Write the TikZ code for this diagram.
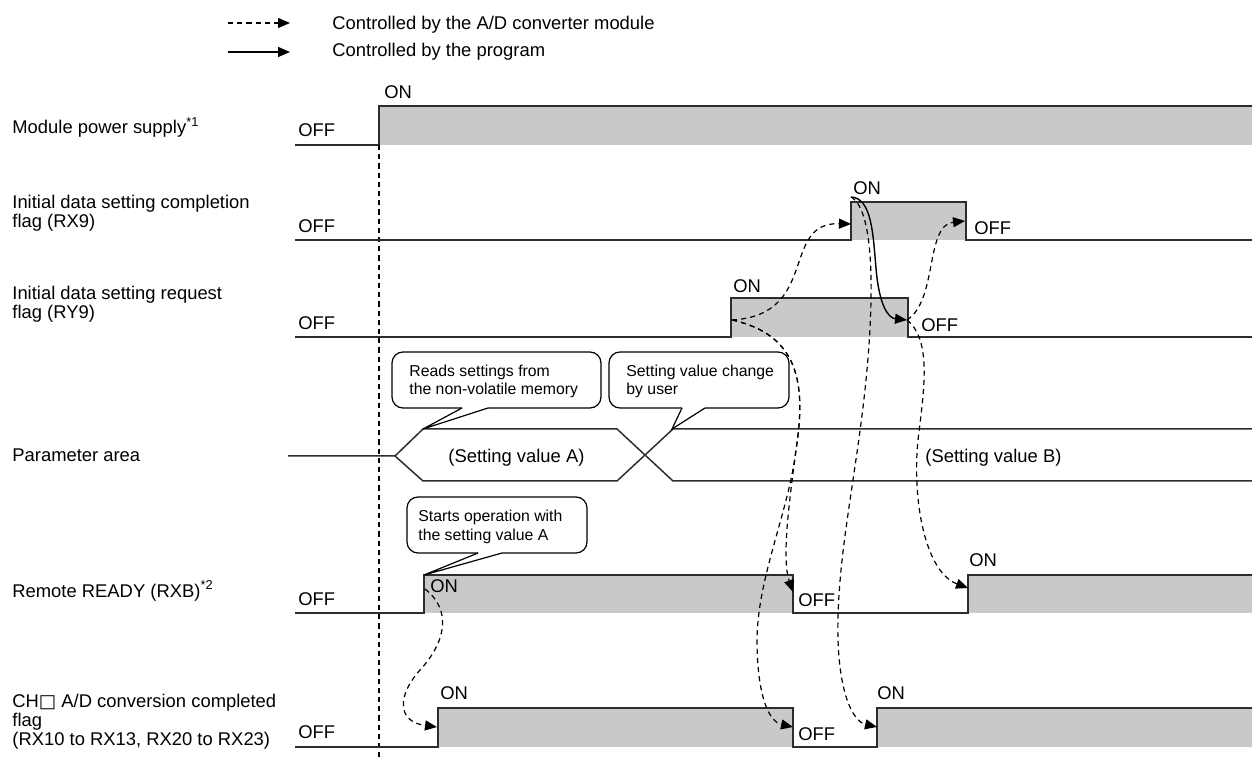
\documentclass[tikz,border=0pt]{standalone}
\usepackage{fontspec}
\setmainfont{Liberation Sans}
\newfontfamily\symfont{DejaVu Sans}
\usetikzlibrary{arrows.meta}

\definecolor{sigfill}{RGB}{200,201,203}
\definecolor{sigline}{RGB}{45,45,45}

\begin{document}
\begin{tikzpicture}[
  x=0.5pt, y=-0.5pt,
  font=\fontsize{9.2}{10}\selectfont,
  sig/.style={draw=sigline, line width=0.75pt},
  high/.style={fill=sigfill},
  lbl/.style={anchor=base west, inner sep=0pt},
  note/.style={anchor=base west, inner sep=0pt,
    font=\fontsize{7.9}{9.5}\selectfont},
  callout/.style={draw=black, line width=0.6pt},
  bymodule/.style={draw=black, line width=0.6pt,
    dash pattern=on 2.6pt off 2pt,
    -{Triangle[length=6pt,width=5pt]}},
  byprog/.style={draw=black, line width=0.7pt,
    -{Triangle[length=6pt,width=5pt]}}
]
  \useasboundingbox (0,0) rectangle (1252,758);

  % Legend
  \coordinate (lgA) at (228,23);
  \coordinate (lgB) at (290,23);
  \coordinate (lgC) at (228,52);
  \coordinate (lgD) at (290,52);
  \draw[bymodule] (lgA) -- (lgB);
  \draw[byprog] (lgC) -- (lgD);
  \node[lbl] (lgmod) at (332,30) {Controlled by the A/D converter module};
  \node[lbl] (lgprog) at (332,57) {Controlled by the program};

  % Signal names
  \node[lbl] (nmpow)  at (12,134) {Module power supply\textsuperscript{*1}};
  \node[lbl] (nmrx9a) at (12,209) {Initial data setting completion};
  \node[lbl] (nmrx9b) at (12,228) {flag (RX9)};
  \node[lbl] (nmry9a) at (12,300) {Initial data setting request};
  \node[lbl] (nmry9b) at (12,319) {flag (RY9)};
  \node[lbl] (nmpar)  at (12,462) {Parameter area};
  \node[lbl] (nmrr)   at (12,597) {Remote READY (RXB)\textsuperscript{*2}};
  \node[lbl] (nmcha)  at (12,707) {CH{\symfont □} A/D conversion completed};
  \node[lbl] (nmchb)  at (12,726) {flag};
  \node[lbl] (nmchc)  at (12,745) {(RX10 to RX13, RX20 to RX23)};

  % Module power supply
  \fill[high] (379,106) rectangle (1252,145);
  \draw[sig] (295,145) -- (379,145) -- (379,106) -- (1252,106);
  \node[lbl] (powoff) at (298,137) {OFF};
  \node[lbl] (powon)  at (384,99) {ON};
  \draw[black, line width=0.6pt, dash pattern=on 2.6pt off 2pt]
    (379,145) -- (379,758);

  % RX9
  \fill[high] (851,202) rectangle (966,240);
  \draw[sig] (295,240) -- (851,240) -- (851,202) -- (966,202)
    -- (966,240) -- (1252,240);
  \node[lbl] (rx9off1) at (298,233) {OFF};
  \node[lbl] (rx9on)   at (853,195) {ON};
  \node[lbl] (rx9off2) at (974,235) {OFF};

  % RY9
  \fill[high] (731,298) rectangle (908,337);
  \draw[sig] (295,337) -- (731,337) -- (731,298) -- (908,298)
    -- (908,337) -- (1252,337);
  \node[lbl] (ry9off1) at (298,330) {OFF};
  \node[lbl] (ry9on)   at (733,293) {ON};
  \node[lbl] (ry9off2) at (921,332) {OFF};

  % Parameter area
  \draw[sig] (288,456) -- (395,456) -- (423,429) -- (617,429)
    -- (673,481) -- (1252,481);
  \draw[sig] (395,456) -- (423,481) -- (617,481) -- (673,429)
    -- (1252,429);
  \node[lbl] (parA) at (448,463) {(Setting value A)};
  \node[lbl] (parB) at (925,463) {(Setting value B)};

  % Remote READY
  \fill[high] (424,575) rectangle (793,613);
  \fill[high] (968,575) rectangle (1252,613);
  \draw[sig] (295,613) -- (424,613) -- (424,575) -- (793,575)
    -- (793,613) -- (968,613) -- (968,575) -- (1252,575);
  \node[lbl] (rroff1) at (298,605) {OFF};
  \node[lbl] (rron1)  at (430,592) {ON};
  \node[lbl] (rroff2) at (798,606) {OFF};
  \node[lbl] (rron2)  at (969,567) {ON};

  % CH A/D conversion completed
  \fill[high] (438,708) rectangle (793,747);
  \fill[high] (877,708) rectangle (1252,747);
  \draw[sig] (295,747) -- (438,747) -- (438,708) -- (793,708)
    -- (793,747) -- (877,747) -- (877,708) -- (1252,708);
  \node[lbl] (choff1) at (298,738) {OFF};
  \node[lbl] (chon1)  at (440,699) {ON};
  \node[lbl] (choff2) at (798,740) {OFF};
  \node[lbl] (chon2)  at (877,699) {ON};

  % Callouts
  \draw[callout, rounded corners=5.5pt] (488,408) -- (601,408) -- (601,352)
    -- (392,352) -- (392,408) -- (462,408);
  \draw[callout] (462,408) -- (423,429) -- (488,408);
  \node[note] (cl1a) at (409,377) {Reads settings from};
  \node[note] (cl1b) at (409,395) {the non-volatile memory};

  \draw[callout, rounded corners=5.5pt] (705,408) -- (789,408) -- (789,352)
    -- (609,352) -- (609,408) -- (682,408);
  \draw[callout] (682,408) -- (672,429) -- (705,408);
  \node[note] (cl2a) at (626,377) {Setting value change};
  \node[note] (cl2b) at (626,395) {by user};

  \draw[callout, rounded corners=5.5pt] (502,553) -- (587,553) -- (587,497)
    -- (407,497) -- (407,553) -- (478,553);
  \draw[callout] (478,553) -- (424,575) -- (502,553);
  \node[note] (cl3a) at (418,522) {Starts operation with};
  \node[note] (cl3b) at (418,540) {the setting value A};

  % Edge points
  \coordinate (ry9up)  at (732,320);
  \coordinate (rx9up)  at (851,197);
  \coordinate (rx9in)  at (851,224);
  \coordinate (ry9dn)  at (907,320);
  \coordinate (rx9dn)  at (965,221);
  \coordinate (rrup)   at (425,589);
  \coordinate (rrdn)   at (793,592);
  \coordinate (rrup2)  at (968,588);
  \coordinate (chup)   at (437,727);
  \coordinate (chdn)   at (793,727);
  \coordinate (chup2)  at (877,727);

  % Handshake arrows
  \draw[bymodule] (ry9up) .. controls (820,315) and (780,222) .. (rx9in);
  \draw[bymodule] (ry9up) .. controls (800,335) and (806,385) .. (796,450)
    .. controls (788,510) and (782,560) .. (rrdn);
  \draw[bymodule] (ry9up) .. controls (800,335) and (806,385) .. (796,450)
    .. controls (788,515) and (756,580) .. (757,645)
    .. controls (758,700) and (770,722) .. (chdn);
  \draw[bymodule] (rx9up) .. controls (875,210) and (874,300) .. (866,380)
    .. controls (856,480) and (836,560) .. (838,640)
    .. controls (840,700) and (855,722) .. (chup2);
  \draw[byprog] (rx9up) .. controls (872,198) and (873,235) .. (876,268)
    .. controls (879,305) and (888,318) .. (ry9dn);
  \draw[bymodule] (ry9dn) .. controls (938,300) and (925,225) .. (rx9dn);
  \draw[bymodule] (ry9dn) .. controls (932,340) and (924,390) .. (918,440)
    .. controls (912,500) and (925,572) .. (rrup2);
  \draw[bymodule] (rrup) .. controls (452,610) and (446,642) .. (420,670)
    .. controls (396,697) and (398,722) .. (chup);
\end{tikzpicture}
\end{document}
